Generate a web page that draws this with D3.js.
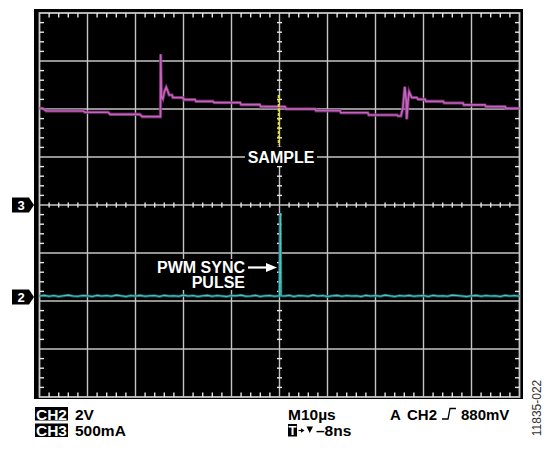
<!DOCTYPE html>
<html><head><meta charset="utf-8">
<script src="https://cdn.jsdelivr.net/npm/d3@7/dist/d3.min.js"></script>
<style>
html,body{margin:0;padding:0;background:#fff;}
svg{display:block;font-family:"Liberation Sans",Arial,sans-serif;}
</style></head>
<body><svg id="c" width="547" height="450"></svg>
<script>
// ---- data (time in µs, CH3 in A, CH2 in V) ----
const ch3Time = [-50,-49.3,-48.6,-40.9,-40.5,-35.7,-35.3,-29.1,-28.6,-24.8,-24.75,-24.6,-24.3,-24.0,-23.6,-23.3,-23.0,-22.4,-22.2,-20.1,-19.9,-17.6,-17.4,-13.9,-13.6,-8.2,-8.0,-4.1,-3.9,1.1,1.4,7.4,7.6,12.6,12.8,18.4,18.6,24.5,24.7,25.3,25.7,26.1,26.4,26.5,26.8,27.0,27.4,27.6,28.6,28.9,30.3,30.5,34.1,34.3,38.2,38.4,42.8,43.0,47.0,47.2,50];
const ch3Current = [1.007,1.007,0.979,0.979,0.966,0.966,0.945,0.945,0.920,0.920,1.570,1.125,1.104,1.177,1.226,1.190,1.146,1.146,1.118,1.118,1.097,1.097,1.080,1.080,1.066,1.066,1.045,1.045,1.024,1.024,1.000,1.000,0.982,0.982,0.961,0.961,0.9375,0.9375,0.927,0.927,1.010,1.232,1.090,0.893,1.090,1.180,1.135,1.118,1.118,1.101,1.101,1.080,1.080,1.0625,1.0625,1.042,1.042,1.024,1.024,1.007,1.007];

const ch2Time = [-50,-49,-48,-47,-46,-45,-44,-43,-42,-41,-40,-39,-38,-37,-36,-35,-34,-33,-32,-31,-30,-29,-28,-27,-26,-25,-24,-23,-22,-21,-20,-19,-18,-17,-16,-15,-14,-13,-12,-11,-10,-9,-8,-7,-6,-5,-4,-3,-2,-1,0,0.2,0.3,1,2,3,4,5,6,7,8,9,10,11,12,13,14,15,16,17,18,19,20,21,22,23,24,25,26,27,28,29,30,31,32,33,34,35,36,37,38,39,40,41,42,43,44,45,46,47,48,49,50];
const ch2Volts = [0.04,0.07,0.03,0.06,0.02,0.05,0.08,0.04,0.03,0.06,
  0.05,0.02,0.07,0.04,0.06,0.03,0.08,0.05,0.02,0.06,
  0.04,0.07,0.03,0.05,0.06,0.02,0.07,0.04,0.05,0.03,
  0.08,0.04,0.06,0.02,0.05,0.07,0.03,0.06,0.04,0.02,
  0.06,0.05,0.08,0.03,0.04,0.07,0.02,0.05,0.06,0.03,
  0.05,3.5,0.05,
  0.04,0.07,0.02,0.06,0.05,0.03,0.08,0.04,0.06,0.02,
  0.05,0.07,0.03,0.06,0.04,0.05,0.02,0.07,0.04,0.06,
  0.03,0.08,0.05,0.02,0.06,0.04,0.07,0.03,0.05,0.06,
  0.02,0.07,0.04,0.05,0.03,0.08,0.06,0.04,0.02,0.05,
  0.07,0.03,0.06,0.04,0.05,0.02,0.07,0.04,0.06,0.03];

const sampleTime = [0, 0];
const sampleDiv = [2.29, 1.25];

const ch3Offset = 0, ch3Scale = 0.5;        // div, A/div
const ch2Offset = -1.917, ch2Scale = 2;     // div, V/div

const bottomLine1 = {left:"CH2", leftVal:"2V", mid:"M10µs"};
const bottomLine2 = {left:"CH3", leftVal:"500mA", mid:"–8ns"};

// ---- drawing ----
const svg = d3.select("#c");
const x = d3.scaleLinear().domain([-50, 50]).range([39.5, 519.5]);
const y = d3.scaleLinear().domain([-4, 4]).range([397, 13]);

svg.append("rect").attr("x",34).attr("y",9).attr("width",489).attr("height",390).attr("fill","#000");

const gridC = "#c4c4c4";
const g = svg.append("g");
d3.range(-4,5).forEach(i=>{
  g.append("line").attr("x1",x(i*10)).attr("x2",x(i*10)).attr("y1",y(-4)).attr("y2",y(4))
    .attr("stroke",gridC).attr("stroke-width",1.4);
});
d3.range(-3,4).forEach(j=>{
  g.append("line").attr("x1",x(-50)).attr("x2",x(50)).attr("y1",y(j)).attr("y2",y(j))
    .attr("stroke",gridC).attr("stroke-width",1.4);
});
g.append("rect").attr("x",x(-50)).attr("y",y(4)).attr("width",x(50)-x(-50)).attr("height",y(-4)-y(4))
  .attr("fill","none").attr("stroke","#c8c8c8").attr("stroke-width",1.8);

const tickC = "#e6e6e6";
d3.range(-50,50.01,2).forEach(t=>{
  if (Math.abs(t%10)<1e-6) return;
  const xx = x(t);
  g.append("line").attr("x1",xx).attr("x2",xx).attr("y1",y(4)).attr("y2",y(4)+4.5).attr("stroke",tickC).attr("stroke-width",1.4);
  g.append("line").attr("x1",xx).attr("x2",xx).attr("y1",y(-4)).attr("y2",y(-4)-4.5).attr("stroke",tickC).attr("stroke-width",1.4);
  g.append("line").attr("x1",xx).attr("x2",xx).attr("y1",y(0)-2.5).attr("y2",y(0)+2.5).attr("stroke",tickC).attr("stroke-width",1.4);
});
d3.range(-4,4.01,0.2).forEach(d=>{
  if (Math.abs(d-Math.round(d))<1e-6) return;
  const yy = y(d);
  g.append("line").attr("x1",x(-50)).attr("x2",x(-50)+4.5).attr("y1",yy).attr("y2",yy).attr("stroke",tickC).attr("stroke-width",1.4);
  g.append("line").attr("x1",x(50)).attr("x2",x(50)-4.5).attr("y1",yy).attr("y2",yy).attr("stroke",tickC).attr("stroke-width",1.4);
  g.append("line").attr("x1",x(0)-2.5).attr("x2",x(0)+2.5).attr("y1",yy).attr("y2",yy).attr("stroke",tickC).attr("stroke-width",1.4);
});

// traces
const ch3Line = d3.line().x(d=>x(d[0])).y(d=>y(ch3Offset + d[1]/ch3Scale));
const ch3Data = ch3Time.map((t,i)=>[t,ch3Current[i]]);
svg.append("path").attr("d",ch3Line(ch3Data)).attr("fill","none").attr("stroke","#7a2f74").attr("stroke-width",3.4).attr("opacity",0.75);
svg.append("path").attr("d",ch3Line(ch3Data)).attr("fill","none").attr("stroke","#c463bb").attr("stroke-width",1.7);

const ch2Line = d3.line().x(d=>x(d[0])).y(d=>y(ch2Offset + d[1]/ch2Scale));
const ch2Data = ch2Time.map((t,i)=>[t,ch2Volts[i]]);
svg.append("path").attr("d",ch2Line(ch2Data)).attr("fill","none").attr("stroke","#1d7778").attr("stroke-width",2.8).attr("opacity",0.85);
svg.append("path").attr("d",ch2Line(ch2Data)).attr("fill","none").attr("stroke","#4fc2c3").attr("stroke-width",1.1);

// sample trace
svg.append("line").attr("x1",x(sampleTime[0])-0.8).attr("x2",x(sampleTime[1])-0.8)
  .attr("y1",y(sampleDiv[0])).attr("y2",y(sampleDiv[1]))
  .attr("stroke","#e8e41c").attr("stroke-width",2).attr("stroke-dasharray","3,1.5");

function label(txt, xx, yy, size, anchor){
  return svg.append("text").attr("x",xx).attr("y",yy).attr("font-size",size).attr("font-weight","bold")
    .attr("fill","#fff").attr("text-anchor",anchor).text(txt);
}
svg.append("rect").attr("x",245).attr("y",147).attr("width",72).attr("height",19).attr("fill","#000");
label("SAMPLE", 281, 162.5, 16, "middle");

svg.append("rect").attr("x",153).attr("y",259).attr("width",95).attr("height",31).attr("fill","#000");
label("PWM SYNC", 245, 272.5, 16, "end");
label("PULSE", 245, 288, 16, "end");
svg.append("line").attr("x1",248).attr("x2",268).attr("y1",267.5).attr("y2",267.5).attr("stroke","#fff").attr("stroke-width",2.2);
svg.append("path").attr("d","M266,263 L277,267.5 L266,272 Z").attr("fill","#fff");

function marker(num, yy){
  svg.append("path").attr("d",`M12,${yy-7.5} L29,${yy-7.5} L34,${yy} L29,${yy+7.5} L12,${yy+7.5} Z`).attr("fill","#000");
  svg.append("text").attr("x",21).attr("y",yy+5).attr("text-anchor","middle").attr("font-size",13).attr("font-weight","bold").attr("fill","#fff").text(num);
}
marker("3", y(ch3Offset));
marker("2", y(ch2Offset));

function boxText(txt, xx, yy, w){
  svg.append("rect").attr("x",xx).attr("y",yy-12.5).attr("width",w).attr("height",13.5).attr("fill","#000");
  svg.append("text").attr("x",xx+w/2).attr("y",yy).attr("text-anchor","middle").attr("font-size",15.5).attr("font-weight","bold").attr("fill","#fff").text(txt);
}
function plain(txt, xx, yy, size, anchor){
  svg.append("text").attr("x",xx).attr("y",yy).attr("text-anchor",anchor||"start").attr("font-size",size||15.5).attr("font-weight","bold").attr("fill","#000").text(txt);
}
boxText(bottomLine1.left, 35, 419.5, 33);
plain(bottomLine1.leftVal, 75, 419.5);
boxText(bottomLine2.left, 35, 436, 33);
plain(bottomLine2.leftVal, 75, 436);
plain(bottomLine1.mid, 288, 419.5);
svg.append("rect").attr("x",288).attr("y",424).attr("width",9).attr("height",12.5).attr("fill","#000");
svg.append("text").attr("x",292.5).attr("y",435).attr("text-anchor","middle").attr("font-size",13).attr("font-weight","bold").attr("fill","#fff").text("T");
svg.append("line").attr("x1",298.5).attr("x2",302).attr("y1",430.5).attr("y2",430.5).attr("stroke","#000").attr("stroke-width",1.2);
svg.append("path").attr("d","M301,428.3 L304.5,430.5 L301,432.7 Z").attr("fill","#000");
svg.append("path").attr("d","M306.5,426.5 L313,426.5 L309.75,433 Z").attr("fill","#000");
plain(bottomLine2.mid, 316, 436);

plain("A", 390, 419.5, 15);
plain("CH2", 407, 419.5, 15);
svg.append("path").attr("d","M442,419 L448,419 L450,408.5 L456,408.5").attr("fill","none").attr("stroke","#000").attr("stroke-width",1.3);
plain("880mV", 461, 419.5, 15, "start");

svg.append("text").attr("transform","translate(541,408) rotate(-90)").attr("text-anchor","middle")
  .attr("font-size",12).attr("fill","#333").text("11835-022");
</script></body></html>
